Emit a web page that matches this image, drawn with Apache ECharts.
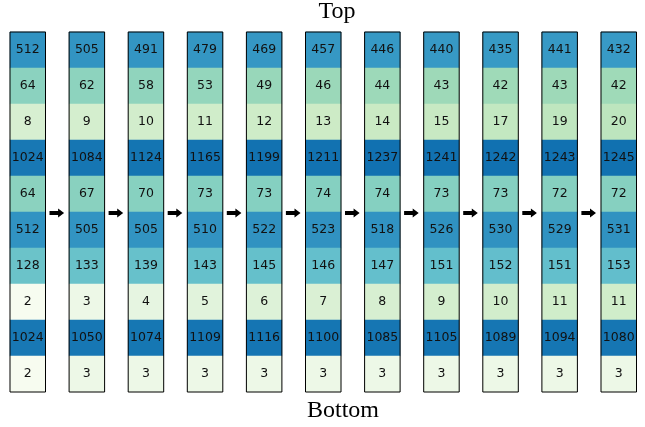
<!DOCTYPE html>
<html>
<head>
<meta charset="utf-8">
<script src="https://cdn.jsdelivr.net/npm/echarts@6/dist/echarts.min.js"></script>
<style>
html,body{margin:0;padding:0;background:#fff;}
#chart{width:645px;height:427px;}
</style>
</head>
<body>
<div id="chart"></div>
<script>
// Steps (columns), left to right
const steps = ['0','1','2','3','4','5','6','7','8','9','10'];
// Row values (top to bottom), one array per row, one entry per step
const row0 = [512, 505, 491, 479, 469, 457, 446, 440, 435, 441, 432];
const row1 = [64, 62, 58, 53, 49, 46, 44, 43, 42, 43, 42];
const row2 = [8, 9, 10, 11, 12, 13, 14, 15, 17, 19, 20];
const row3 = [1024, 1084, 1124, 1165, 1199, 1211, 1237, 1241, 1242, 1243, 1245];
const row4 = [64, 67, 70, 73, 73, 74, 74, 73, 73, 72, 72];
const row5 = [512, 505, 505, 510, 522, 523, 518, 526, 530, 529, 531];
const row6 = [128, 133, 139, 143, 145, 146, 147, 151, 152, 151, 153];
const row7 = [2, 3, 4, 5, 6, 7, 8, 9, 10, 11, 11];
const row8 = [1024, 1050, 1074, 1109, 1116, 1100, 1085, 1105, 1089, 1094, 1080];
const row9 = [2, 3, 3, 3, 3, 3, 3, 3, 3, 3, 3];
const rows = [row0, row1, row2, row3, row4, row5, row6, row7, row8, row9];
const rowNames = ['r0','r1','r2','r3','r4','r5','r6','r7','r8','r9'];
const topLabel = 'Top';
const bottomLabel = 'Bottom';

// Layout
const gLeft0 = 10, gPitch = 59.1, gWidth = 35.5, gTop = 32, gHeight = 360;
const GnBu = ['#f7fcf0','#e0f3db','#ccebc5','#a8ddb5','#7bccc4','#4eb3d3','#2b8cbe','#0868ac','#084081'];

const grids = [], xAxes = [], yAxes = [], series = [], graphics = [];
steps.forEach((s, i) => {
  const left = gLeft0 + i * gPitch;
  grids.push({left: left, top: gTop, width: gWidth, height: gHeight,
    show: true, borderColor: '#000', borderWidth: 1, backgroundColor: 'transparent', z: 5});
  xAxes.push({type: 'category', gridIndex: i, data: [s], show: false});
  yAxes.push({type: 'category', gridIndex: i, data: rowNames, inverse: true, show: false});
  series.push({
    type: 'heatmap', xAxisIndex: i, yAxisIndex: i,
    data: rows.map((r, j) => [0, j, r[i], Math.log2(r[i])]),
    label: {show: true, formatter: p => String(p.value[2]), color: '#111',
      fontFamily: 'DejaVu Sans', fontSize: 12.5},
    itemStyle: {borderWidth: 0},
    emphasis: {disabled: true},
    progressive: 0
  });
  if (i < steps.length - 1) {
    const x0 = left + gWidth + 4;
    const x1 = gLeft0 + (i + 1) * gPitch - 5;
    const yc = gTop + gHeight / 2 + 1;
    const hl = 6, hw = 4.5, sw = 2;
    graphics.push({type: 'polygon', shape: {points: [
      [x0, yc - sw], [x1 - hl, yc - sw], [x1 - hl, yc - hw], [x1, yc],
      [x1 - hl, yc + hw], [x1 - hl, yc + sw], [x0, yc + sw]]},
      style: {fill: '#000'}});
  }
});

graphics.push({type: 'text', x: 337, y: 12, style: {text: topLabel,
  font: '24px "Liberation Serif", "DejaVu Serif", serif', fill: '#000',
  textAlign: 'center', textVerticalAlign: 'middle'}});
graphics.push({type: 'text', x: 343, y: 411, style: {text: bottomLabel,
  font: '24px "Liberation Serif", "DejaVu Serif", serif', fill: '#000',
  textAlign: 'center', textVerticalAlign: 'middle'}});

const chart = echarts.init(document.getElementById('chart'));
chart.setOption({
  animation: false,
  backgroundColor: '#fff',
  grid: grids,
  xAxis: xAxes,
  yAxis: yAxes,
  visualMap: {type: 'continuous', show: false, min: 1, max: 12, dimension: 3,
    seriesIndex: series.map((_, k) => k), inRange: {color: GnBu}},
  series: series,
  graphic: graphics
});
</script>
</body>
</html>
